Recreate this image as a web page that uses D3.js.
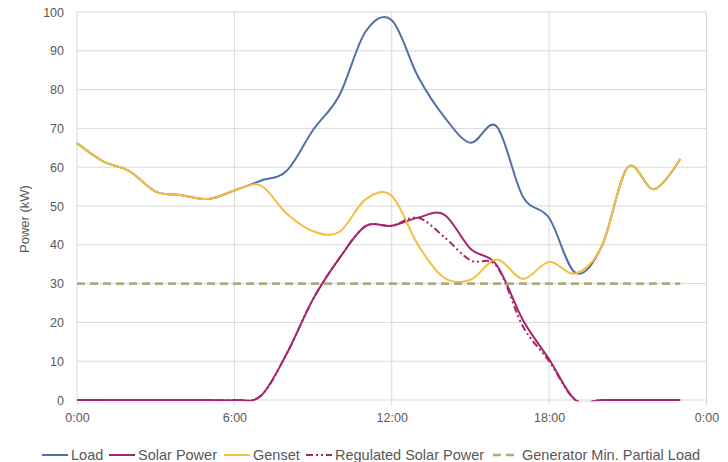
<!DOCTYPE html>
<html>
<head>
<meta charset="utf-8">
<script src="https://cdn.jsdelivr.net/npm/d3@7"></script>
<style>
  html, body { margin: 0; padding: 0; background: #ffffff; }
  svg { display: block; font-family: "Liberation Sans", Arial, sans-serif; }
</style>
</head>
<body>
<svg id="chart" width="728" height="462"></svg>
<script>
// ---- data (hourly, 0:00 .. 23:00) ----
const hours = [0,1,2,3,4,5,6,7,8,9,10,11,12,13,14,15,16,17,18,19,20,21,22,23];
const load      = [66.2,61.5,59.0,53.7,52.8,51.8,54.0,56.5,59.1,69.6,78.5,94.9,97.9,83.4,73.0,66.3,70.5,52.4,46.9,32.8,39.5,60.0,54.3,62.1];
const solar     = [0,0,0,0,0,0,0,1.0,12.0,26.0,36.5,44.8,44.9,47.0,47.8,39.0,34.8,20.6,10.5,0,0,0,0,0];
const genset    = [66.2,61.5,59.0,53.7,52.8,51.8,54.0,55.3,48.0,43.5,43.3,51.7,52.6,40.0,31.5,31.0,36.2,31.2,35.6,32.6,39.5,60.0,54.3,62.1];
const regulated = [0,0,0,0,0,0,0,1.0,12.0,26.0,36.5,44.8,44.9,47.0,42.0,36.0,34.5,19.0,10.0,0,0,0,0,0];
const genMin    = [30,30,30,30,30,30,30,30,30,30,30,30,30,30,30,30,30,30,30,30,30,30,30,30];
const seriesNames = ["Load","Solar Power","Genset","Regulated Solar Power","Generator Min. Partial Load"];
const xTickValues = [0,6,12,18,24];
const xTickLabels = ["0:00","6:00","12:00","18:00","0:00"];
const yTickValues = [0,10,20,30,40,50,60,70,80,90,100];
const yTitle = "Power (kW)";

// ---- layout ----
const svg = d3.select("#chart");
const pLeft = 77, pRight = 706.5, pTop = 12, pBottom = 400;
const x = d3.scaleLinear().domain([0,24]).range([pLeft,pRight]);
const y = d3.scaleLinear().domain([0,100]).range([pBottom,pTop]);
const gridColor = "#d9d9d9";
const textColor = "#595959";

// gridlines
svg.append("g").selectAll("line").data(yTickValues).join("line")
  .attr("x1", pLeft).attr("x2", pRight)
  .attr("y1", d => y(d)).attr("y2", d => y(d))
  .attr("stroke", gridColor).attr("stroke-width", 1);
svg.append("g").selectAll("line").data(xTickValues).join("line")
  .attr("x1", d => x(d)).attr("x2", d => x(d))
  .attr("y1", pTop).attr("y2", pBottom + 5)
  .attr("stroke", gridColor).attr("stroke-width", 1);

// y axis labels
const yAxis = d3.axisLeft(y).tickValues(yTickValues).tickSize(0).tickPadding(13).tickFormat(d3.format("d"));
const gy = svg.append("g").attr("transform", `translate(${pLeft},0)`).call(yAxis);
gy.select(".domain").remove();
gy.selectAll("text").attr("fill", textColor).style("font-size", "12.5px")
  .style("font-family", '"Liberation Sans", Arial, sans-serif');

// x axis labels
const xAxis = d3.axisBottom(x).tickValues(xTickValues).tickSize(0).tickPadding(13)
  .tickFormat((d,i) => xTickLabels[i]);
const gx = svg.append("g").attr("transform", `translate(0,${pBottom})`).call(xAxis);
gx.select(".domain").remove();
gx.selectAll("text").attr("fill", textColor).style("font-size", "12.5px")
  .style("font-family", '"Liberation Sans", Arial, sans-serif');

// y title
svg.append("text")
  .attr("transform", `translate(29,${(pTop+pBottom)/2 + 13}) rotate(-90)`)
  .attr("text-anchor", "middle")
  .attr("fill", textColor).style("font-size", "13px")
  .text(yTitle);

// clip
svg.append("clipPath").attr("id","plotclip").append("rect")
  .attr("x", pLeft - 2).attr("y", 0).attr("width", pRight - pLeft + 4).attr("height", pBottom + 1.2);

const lineGen = d3.line().x((d,i) => x(hours[i])).y(d => y(d)).curve(d3.curveCardinal.tension(0));

const styles = [
  {data: load,      color: "#5071a3", width: 2,   dash: null},
  {data: solar,     color: "#a5266a", width: 2,   dash: null},
  {data: genset,    color: "#f4bf3f", width: 2,   dash: null},
  {data: regulated, color: "#a5266a", width: 2,   dash: "7,3,2,3,2,3"},
  {data: genMin,    color: "#aeaa7f", width: 2.6, dash: "8,5"}
];
const plot = svg.append("g").attr("clip-path", "url(#plotclip)");
styles.forEach(s => {
  plot.append("path").datum(s.data)
    .attr("d", lineGen)
    .attr("fill", "none")
    .attr("stroke", s.color)
    .attr("stroke-width", s.width)
    .attr("stroke-dasharray", s.dash)
    .attr("stroke-linejoin", "round");
});

// legend
const legendX = [42, 109, 224, 306, 493];
const legendY = 455;
const lg = svg.append("g");
styles.forEach((s, i) => {
  lg.append("line")
    .attr("x1", legendX[i]).attr("x2", legendX[i] + 26)
    .attr("y1", legendY).attr("y2", legendY)
    .attr("stroke", s.color).attr("stroke-width", s.width)
    .attr("stroke-dasharray", s.dash);
  lg.append("text")
    .attr("x", legendX[i] + 29).attr("y", legendY)
    .attr("dy", "0.35em")
    .attr("fill", textColor).style("font-size", "14.5px")
    .text(seriesNames[i]);
});
</script>
</body>
</html>
